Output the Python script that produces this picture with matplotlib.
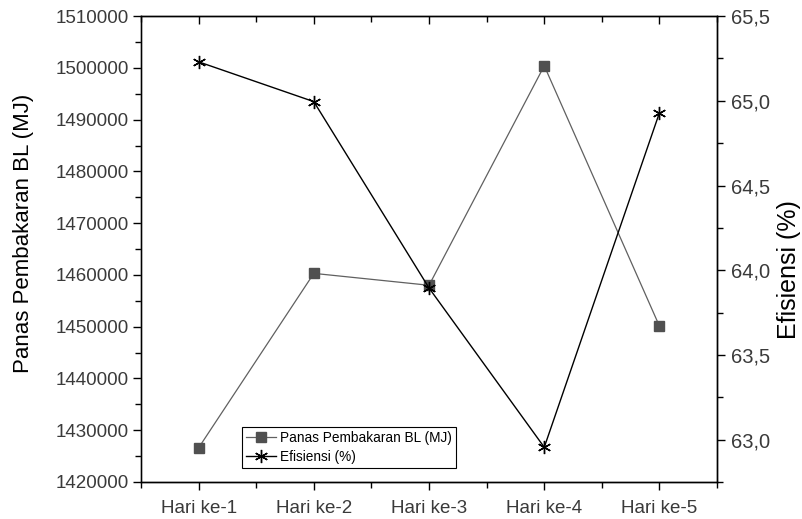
import matplotlib
matplotlib.use("Agg")
import matplotlib.pyplot as plt
from matplotlib.ticker import MultipleLocator, FixedLocator, FuncFormatter

plt.rcParams['font.family'] = ['Liberation Sans', 'DejaVu Sans']

categories = ["Hari ke-1", "Hari ke-2", "Hari ke-3", "Hari ke-4", "Hari ke-5"]
panas = [1426600, 1460300, 1458000, 1500400, 1450100]
efisiensi = [65.23, 64.995, 63.895, 62.955, 64.93]
right_ticks = [63.0, 63.5, 64.0, 64.5, 65.0, 65.5]
right_labels = ['63,0', '63,5', '64,0', '64,5', '65,0', '65,5']

fig = plt.figure(figsize=(8.03, 5.19), dpi=100)
ax = fig.add_axes([0.1756, 0.0713, 0.7174, 0.8977])
ax2 = ax.twinx()

x = list(range(1, len(categories) + 1))
l1, = ax.plot(x, panas, color='#606060', lw=0.9, marker='s', markersize=7,
              markerfacecolor='#505050', markeredgecolor='#505050', label='Panas Pembakaran BL (MJ)')
l2, = ax2.plot(x, efisiensi, color='black', lw=1.0, marker=(6, 2, 0), markersize=9.5,
               markeredgewidth=1.0, markeredgecolor='black', label='Efisiensi (%)')

ax.set_xlim(0.5, 5.5)
ax.set_ylim(1420000, 1510000)
ax2.set_ylim(62.75, 65.5)

minor_x = [0.5, 1.5, 2.5, 3.5, 4.5, 5.5]
ax.set_xticks(x)
ax.set_xticklabels(categories)
ax.xaxis.set_minor_locator(FixedLocator(minor_x))
ax.yaxis.set_major_locator(MultipleLocator(10000))
ax.yaxis.set_minor_locator(MultipleLocator(5000))
ax.yaxis.set_major_formatter(FuncFormatter(lambda v, p: f"{int(round(v))}"))
ax2.yaxis.set_major_locator(FixedLocator(right_ticks))
ax2.yaxis.set_minor_locator(FixedLocator([62.75, 63.25, 63.75, 64.25, 64.75, 65.25]))
ax2.set_yticklabels(right_labels)

tick_col = '#3a3a3a'
ax.tick_params(axis='x', which='both', direction='out', top=False,
               labelsize=13.5, labelcolor=tick_col, pad=7)
ax.tick_params(axis='x', which='major', length=6, width=1)
ax.tick_params(axis='x', which='minor', length=4, width=1)
ax.tick_params(axis='y', which='major', direction='out', length=6, width=1, labelsize=13.5,
               labelcolor=tick_col, left=True, right=False, pad=3)
ax.tick_params(axis='y', which='minor', direction='out', length=4, width=1, left=True, right=False)
ax2.tick_params(axis='y', which='major', direction='out', length=6, width=1, labelsize=14.5,
                labelcolor=tick_col, pad=4)
ax2.tick_params(axis='y', which='minor', direction='out', length=4, width=1)

# top ticks inward
sec = ax.secondary_xaxis('top')
sec.set_xticks(x)
sec.set_xticklabels([])
sec.xaxis.set_minor_locator(FixedLocator(minor_x))
sec.tick_params(axis='x', which='major', direction='in', length=6, width=1, colors='black')
sec.tick_params(axis='x', which='minor', direction='in', length=4, width=1, colors='black')
sec.spines['top'].set_visible(False)

for a in (ax, ax2):
    for s in a.spines.values():
        s.set_color('black')
        s.set_linewidth(1.0)
ax.spines['left'].set_color('#555555')

ax.set_ylabel('Panas Pembakaran BL (MJ)', fontsize=16, color='black')
ax.yaxis.set_label_coords(-0.186, 0.533)
ax2.set_ylabel('Efisiensi (%)', fontsize=18, color='black')
ax2.yaxis.set_label_coords(1.104, 0.457)

leg = ax.legend([l1, l2], ['Panas Pembakaran BL (MJ)', 'Efisiensi (%)'],
                loc='lower left', bbox_to_anchor=(0.175, 0.030), fontsize=9.8,
                frameon=True, fancybox=False, framealpha=1, edgecolor='black',
                borderpad=0.3, handlelength=2.2, handletextpad=0.3, labelspacing=0.35,
                borderaxespad=0)
leg.get_frame().set_linewidth(0.8)

fig.savefig('out.png', dpi=100)
